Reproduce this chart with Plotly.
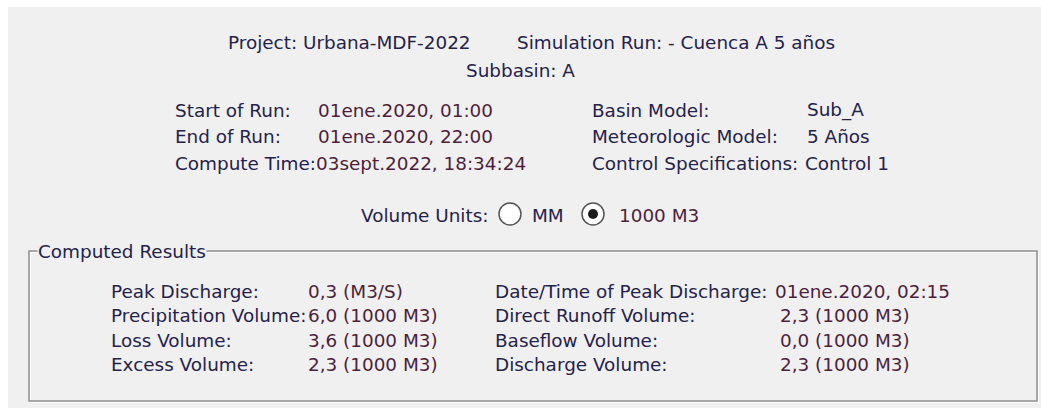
import plotly.graph_objects as go

W, H = 1041, 408
FONT = "DejaVu Sans"
FS = 18.4
LABEL_C = "#25224a"
VALUE_C = "#4d1f3a"

# ---- data ----
project = "Urbana-MDF-2022"
sim_run = "- Cuenca A 5 años"
subbasin = "A"

run_labels_left = ["Start of Run:", "End of Run:", "Compute Time:"]
run_values_left = ["01ene.2020, 01:00", "01ene.2020, 22:00", "03sept.2022, 18:34:24"]
run_labels_right = ["Basin Model:", "Meteorologic Model:", "Control Specifications:"]
run_values_right = ["Sub_A", "5 Años", "Control 1"]

unit_options = ["MM", "1000 M3"]
unit_selected = "1000 M3"

res_labels_left = ["Peak Discharge:", "Precipitation Volume:", "Loss Volume:", "Excess Volume:"]
res_values_left = ["0,3 (M3/S)", "6,0 (1000 M3)", "3,6 (1000 M3)", "2,3 (1000 M3)"]
res_labels_right = ["Date/Time of Peak Discharge:", "Direct Runoff Volume:", "Baseflow Volume:", "Discharge Volume:"]
res_values_right = ["01ene.2020, 02:15", "2,3 (1000 M3)", "0,0 (1000 M3)", "2,3 (1000 M3)"]

fig = go.Figure()
ann = []
shapes = []

def txt(x, y, s, color=LABEL_C, anchor="left", bg=None):
    d = dict(x=x, y=y, text=s, showarrow=False, xanchor=anchor, yanchor="middle",
             font=dict(family=FONT, size=FS, color=color), xref="x", yref="y")
    if bg:
        d["bgcolor"] = bg
        d["borderpad"] = 0
    ann.append(d)

# panel background
shapes.append(dict(type="rect", x0=8, x1=W, y0=7, y1=H, fillcolor="#f0f0f0",
                   line=dict(width=0), layer="below", xref="x", yref="y"))

# header
txt(226, 42, f"Project: {project}")
txt(515, 42, f"Simulation Run: {sim_run}")
txt(520, 70, f"Subbasin: {subbasin}", anchor="center")

rows_y = [110, 136, 163]
for i, y in enumerate(rows_y):
    txt(173, y, run_labels_left[i])
    txt(316 if i < 2 else 314, y, run_values_left[i], color=VALUE_C)
    txt(590, y, run_labels_right[i])
    txt(803 if i == 2 else 805, y, run_values_right[i])

# volume units
txt(359, 215, "Volume Units:")
radio_x = [510, 593]
text_x = [530, 617]
for i, opt in enumerate(unit_options):
    cx = radio_x[i]
    r = 11
    shapes.append(dict(type="circle", x0=cx - r, x1=cx + r, y0=214 - r, y1=214 + r,
                       fillcolor="white", line=dict(color="#555555", width=1.5), xref="x", yref="y"))
    if opt == unit_selected:
        rr = 5
        shapes.append(dict(type="circle", x0=cx - rr, x1=cx + rr, y0=214 - rr, y1=214 + rr,
                           fillcolor="#1a1a1a", line=dict(width=0), xref="x", yref="y"))
    txt(text_x[i], 215, opt, color=LABEL_C if i == 0 else VALUE_C)

# group box (etched look)
shapes.append(dict(type="rect", x0=30.5, x1=1038.5, y0=252.5, y1=402.5, fillcolor="rgba(0,0,0,0)",
                   line=dict(color="#fbfbfb", width=1.2), xref="x", yref="y"))
shapes.append(dict(type="rect", x0=29, x1=1037, y0=251, y1=401, fillcolor="rgba(0,0,0,0)",
                   line=dict(color="#8e8e8e", width=1.5), xref="x", yref="y"))
txt(37, 251, "Computed Results", bg="#f0f0f0")

res_y = [291, 315, 340, 364]
for i, y in enumerate(res_y):
    txt(109, y, res_labels_left[i])
    txt(306, y, res_values_left[i], color=VALUE_C)
    txt(493, y, res_labels_right[i])
    txt(773 if i == 0 else 778, y, res_values_right[i], color=VALUE_C)

fig.update_layout(
    width=W, height=H, margin=dict(l=0, r=0, t=0, b=0),
    paper_bgcolor="white", plot_bgcolor="white",
    xaxis=dict(range=[0, W], visible=False, fixedrange=True),
    yaxis=dict(range=[H, 0], visible=False, fixedrange=True),
    annotations=ann, shapes=shapes, showlegend=False,
)
fig.write_html("out.html", config={"displayModeBar": False},
               post_script="document.body.style.margin='0';document.body.style.overflow='hidden';")
